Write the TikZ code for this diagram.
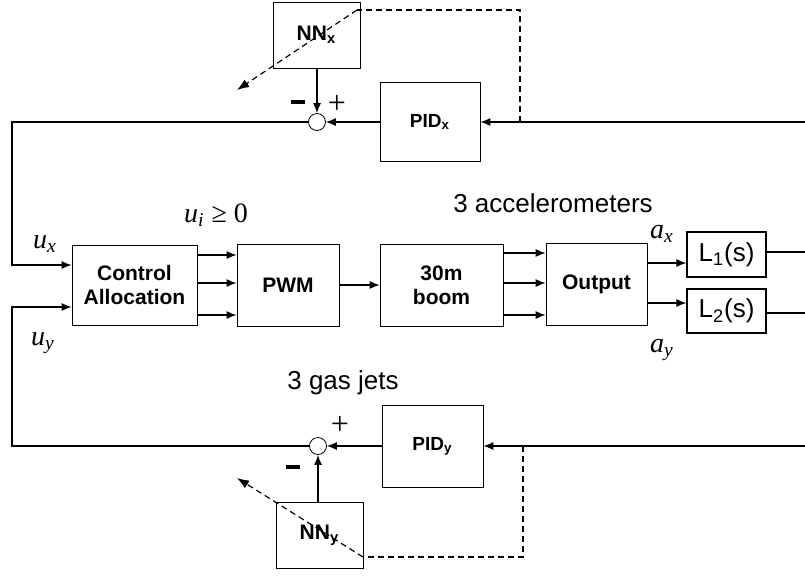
\documentclass[tikz,border=0pt]{standalone}
\usepackage{fontspec}
\setsansfont{Liberation Sans}
\newfontfamily\lblfont{Liberation Serif}
\usetikzlibrary{arrows.meta,calc,positioning}
\tikzset{
 bd block/.style={draw,thin,rectangle,inner sep=0pt,align=center,
                  font=\sffamily\bfseries\fontsize{10.5}{12}\selectfont},
 bd filter/.style={draw,semithick,rectangle,inner sep=0pt,
                   font=\sffamily\fontsize{13}{15}\selectfont},
 bd sum/.style={circle,draw,thin,fill=white,minimum size=8.5pt,inner sep=0pt},
 bd signal/.style={-{Latex[length=5pt,width=4pt]},semithick},
 bd line/.style={semithick},
 bd learn/.style={densely dashed,semithick},
 bd label/.style={inner sep=1pt,font=\lblfont\itshape\fontsize{14}{16}\selectfont},
 bd sign/.style={inner sep=0pt,font=\lblfont\fontsize{16}{16}\selectfont},
 bd text/.style={inner sep=1pt,font=\sffamily\fontsize{13}{15}\selectfont}
}

\begin{document}
\begin{tikzpicture}[x=0.5pt,y=-0.5pt]
 \useasboundingbox (0,0) rectangle (805,575);

 % forward path
 \node[bd block,minimum width=62.5pt,minimum height=40pt] (ca) at (134.5,285) {Control\\Allocation};
 \node[bd block,minimum width=51pt,minimum height=41pt] (pwm) at (288,285) {PWM};
 \node[bd block,minimum width=61.5pt,minimum height=41pt] (boom) at (441.5,285) {30m\\boom};
 \node[bd block,minimum width=50.5pt,minimum height=41pt] (out) at (596.5,284) {Output};
 \node[bd filter,minimum width=39.5pt,minimum height=22.5pt] (l1) at (726.5,254.5) {L\textsubscript{1}(s)};
 \node[bd filter,minimum width=39.5pt,minimum height=22pt] (l2) at (726.5,311) {L\textsubscript{2}(s)};

 % x loop
 \node[bd block,minimum width=43.5pt,minimum height=33pt] (nnx) at (316.5,35) {NN\textsubscript{x}};
 \node[bd block,minimum width=50pt,minimum height=39.5pt,font=\sffamily\bfseries\fontsize{9.5}{11}\selectfont] (pidx) at (430,122) {PID\textsubscript{x}};
 \node[bd sum] (sumx) at (317,122) {};

 % y loop
 \node[bd block,minimum width=43.5pt,minimum height=33pt] (nny) at (319.5,535) {NN\textsubscript{y}};
 \node[bd block,minimum width=50.5pt,minimum height=41pt,font=\sffamily\bfseries\fontsize{9.5}{11}\selectfont] (pidy) at (432.5,446) {PID\textsubscript{y}};
 \node[bd sum] (sumy) at (318,446) {};

 \coordinate (fbx) at (805,122);
 \coordinate (fby) at (805,446);
 \coordinate (endx) at (805,252);
 \coordinate (endy) at (805,313);

 % connections
 \foreach \y in {255,283,315} \draw[bd signal] (ca.east |- 0,\y) -- (pwm.west |- 0,\y);
 \draw[bd signal] (pwm.east |- 0,285) -- (boom.west |- 0,285);
 \foreach \y in {253,283,315} \draw[bd signal] (boom.east |- 0,\y) -- (out.west |- 0,\y);
 \draw[bd signal] (out.east |- 0,263) -- (l1.west |- 0,263);
 \draw[bd signal] (out.east |- 0,303) -- (l2.west |- 0,303);
 \draw[bd line] (l1.east |- endx) -- (endx);
 \draw[bd line] (l2.east |- endy) -- (endy);

 \draw[bd signal] (fbx) -- (pidx.east |- fbx);
 \draw[bd signal] (pidx.west |- sumx) -- (sumx.east);
 \draw[bd signal] (nnx.south -| sumx) -- (sumx.north);
 \draw[bd signal] (sumx.west) -- (12,122) -- (12,265) -- (ca.west |- 0,265);

 \draw[bd signal] (fby) -- (pidy.east |- fby);
 \draw[bd signal] (pidy.west |- sumy) -- (sumy.east);
 \draw[bd signal] (nny.north -| sumy) -- (sumy.south);
 \draw[bd signal] (sumy.west) -- (12,446) -- (12,307) -- (ca.west |- 0,307);

 % learning signals
 \draw[bd learn] (520,122) -- (520,10) -- (357,10);
 \draw[bd learn,-{Latex[length=6pt,width=4.5pt]}] (357,10) -- (237,90);
 \draw[bd learn] (523,446) -- (523,557) -- (363,557);
 \draw[bd learn,-{Latex[length=6pt,width=4.5pt]}] (363,557) -- (237,478);

 % signs
 \node[bd sign] (px) at (337,104) {+};
 \node (mx) at (298,102) {\rule{7pt}{1.6pt}};
 \node[bd sign] (py) at (340,425) {+};
 \node (my) at (293,467) {\rule{7pt}{1.6pt}};

 % labels
 \node[bd label] (ux) at (45,244) {u\textsubscript{x}};
 \node[bd label] (uy) at (43,343) {u\textsubscript{y}};
 \node[bd label] (ui) at (216,215) {u\textsubscript{i} {\upshape≥ 0}};
 \node[bd label] (ax) at (662,234) {a\textsubscript{x}};
 \node[bd label] (ay) at (662,350) {a\textsubscript{y}};
 \node[bd text] (acc) at (553,203) {3 accelerometers};
 \node[bd text] (jets) at (343,383) {3 gas jets};
\end{tikzpicture}
\end{document}
